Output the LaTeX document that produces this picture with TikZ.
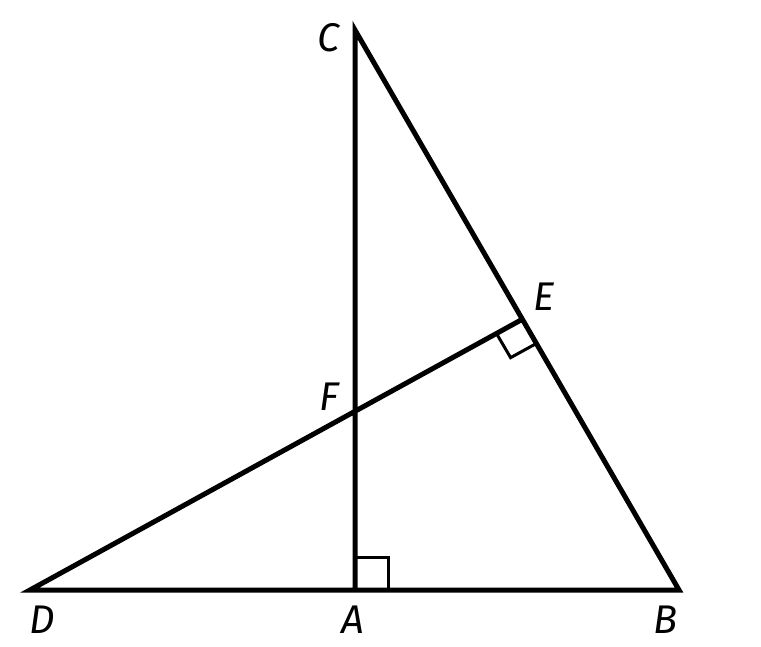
\documentclass[tikz,border=0pt]{standalone}
\usepackage{fontspec}
\setmainfont{Fira Sans}
\usepackage{tikz}
\usetikzlibrary{calc}
\tikzstyle{side} = [line width=5pt,line join=miter]
\tikzstyle{rightangle} = [line width=3pt]
\tikzstyle{lbl} = [font=\itshape\fontsize{40}{40}\selectfont,inner sep=0pt]

\begin{document}
\begin{tikzpicture}[x=1pt,y=-1pt]
\useasboundingbox (0,0) rectangle (761,647);
\coordinate (C) at (355,30);
\coordinate (A) at (355,590);
\coordinate (B) at (679,590);
\coordinate (D) at (30,590);
\coordinate (E) at (521,320);
\coordinate (F) at (355,408);

% right angle marks
\draw[rightangle] ($(A)!33pt!(C)$) -- ++(33,0) -- ($(A)!33pt!(B)$);
\draw[rightangle] ($(E)!28pt!(D)$) -- ($(E)!28pt!(D)+(E)!28pt!(B)-(E)$) -- ($(E)!28pt!(B)$);

\draw[side] (E) -- (D) -- (B) -- (C) -- (A);

\node[lbl] (lC) at (329,38) {C};
\node[lbl] (lE) at (544,297) {E};
\node[lbl] (lF) at (329,397) {F};
\node[lbl] (lD) at (42,620) {D};
\node[lbl] (lA) at (353,620) {A};
\node[lbl] (lB) at (666,620) {B};
\end{tikzpicture}
\end{document}
